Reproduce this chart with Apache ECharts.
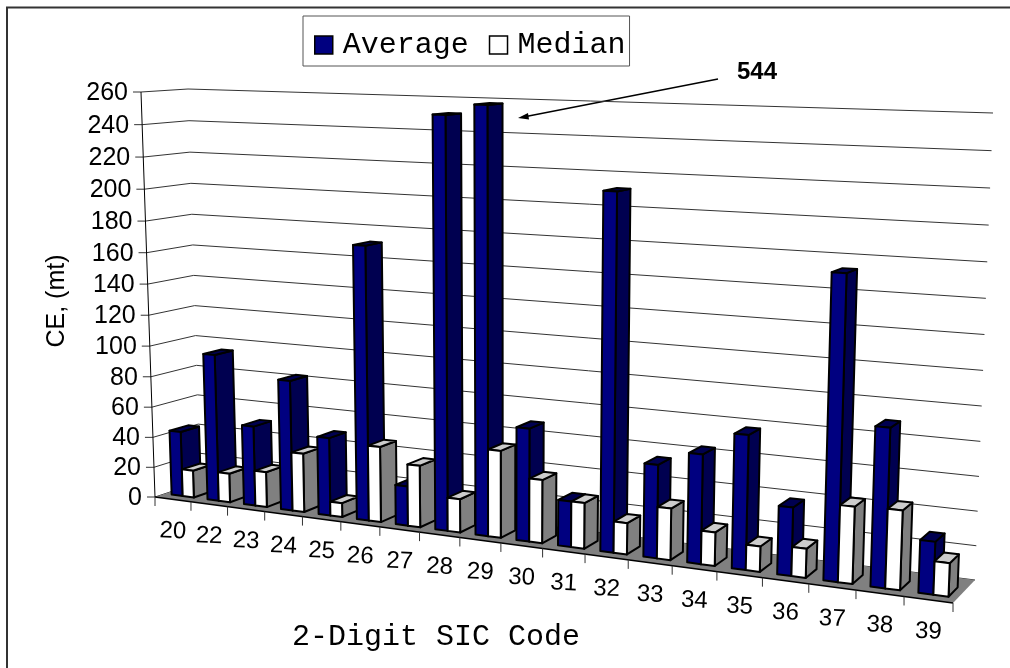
<!DOCTYPE html>
<html><head><meta charset="utf-8">
<style>html,body{margin:0;padding:0;background:#fff}#c{width:1010px;height:668px}</style>
<script src="https://cdn.jsdelivr.net/npm/echarts@6/dist/echarts.min.js"></script>
</head><body><div id="c"></div>
<script>
const categories = ['20','22','23','24','25','26','27','28','29','30','31','32','33','34','35','36','37','38','39'];
const average = [43,96,52,84,50,172,25,251.5,258,69.5,28,212,56,65,79,40,174,91,30];
const median  = [18,19,23,38,9,48,39,21,54,39,28,19,31,20,15,17,44.5,45.5,19];
const valueTicks = [0,20,40,60,80,100,120,140,160,180,200,220,240,260];

// Measured corners of the 3-D box: [u][h][d], with foreshortening along u and h.
const C = {
  c000:[155,497], c001:[200,482], c010:[141,92], c011:[188,89],
  c100:[953,603], c101:[975,580], c110:[971,117], c111:[993,113]
};
const warpU = 0.85, warpH = 0.95;
const BAR_D0 = 0.22, BAR_D1 = 0.63, BAR_W = 0.31;
const warp = (t, a) => a * t / (1 + (a - 1) * t);
function project(u, h, d) {
  const U = warp(u, warpU), H = warp(h, warpH);
  const out = [0, 0];
  for (let k = 0; k < 2; k++) {
    const lerp = (a, b, t) => a + (b - a) * t;
    const b0 = lerp(lerp(C.c000[k], C.c100[k], U), lerp(C.c010[k], C.c110[k], U), H);
    const b1 = lerp(lerp(C.c001[k], C.c101[k], U), lerp(C.c011[k], C.c111[k], U), H);
    out[k] = lerp(b0, b1, d);
  }
  return out;
}
function unit(params, p) {
  const r = params.coordSys;
  return [(p[0] - r.x) / r.width, (r.y + r.height - p[1]) / r.height];
}
const poly = (pts, fill, z2, stroke, lw) => ({
  type: 'polygon', z2, silent: true,
  shape: { points: pts },
  style: { fill, stroke: stroke || null, lineWidth: lw == null ? 0 : lw, lineJoin: 'round' }
});
const line = (pts, stroke, lw, z2) => ({
  type: 'polyline', z2, silent: true,
  shape: { points: pts }, style: { fill: null, stroke, lineWidth: lw }
});
const label = (text, x, y, z2, opts) => ({
  type: 'text', z2, silent: true, x, y, rotation: (opts && opts.rotation) || 0,
  style: Object.assign({ text, x: 0, y: 0, fill: '#000', font: '25px "Liberation Sans"', align: 'center', verticalAlign: 'middle' }, opts && opts.style)
});

function barItem(faces, side) {
  return function (params, api) {
    const i = api.value(0), v = api.value(1);
    const p = api.coord([i, v]);
    const [uc, h] = unit(params, p);
    const w = api.size([1, 0])[0] / params.coordSys.width;
    const u0 = side < 0 ? uc - BAR_W * w : uc;
    const u1 = side < 0 ? uc : uc + BAR_W * w;
    const z2 = 100 + i * 2 + (side < 0 ? 0 : 1);
    const P = (u, hh, d) => project(u, hh, d);
    const lw = 2;
    return { type: 'group', children: [
      poly([P(u1,0,BAR_D0),P(u1,0,BAR_D1),P(u1,h,BAR_D1),P(u1,h,BAR_D0)], faces.side, z2, '#000', lw),
      poly([P(u0,h,BAR_D0),P(u1,h,BAR_D0),P(u1,h,BAR_D1),P(u0,h,BAR_D1)], faces.top, z2, '#000', lw),
      poly([P(u0,0,BAR_D0),P(u1,0,BAR_D0),P(u1,h,BAR_D0),P(u0,h,BAR_D0)], faces.front, z2, '#000', lw)
    ]};
  };
}

const option = {
  animation: false,
  backgroundColor: '#fff',
  grid: { left: 155, right: 57, top: 92, bottom: 171, containLabel: false },
  xAxis: { type: 'category', data: categories, show: false, boundaryGap: true },
  yAxis: { type: 'value', min: 0, max: 260, interval: 20, show: false },
  legend: {
    left: 303, top: 16, width: 326, height: 54,
    orient: 'horizontal', padding: [14, 4, 6, 11], itemGap: 20, itemWidth: 18, itemHeight: 18,
    borderColor: '#555', borderWidth: 1, backgroundColor: '#fff',
    textStyle: { fontFamily: 'Liberation Mono', fontSize: 30, color: '#000', padding: [0, 0, 0, 5] },
    selectedMode: false,
    data: [
      { name: 'Average', icon: 'rect', itemStyle: { color: '#000080', borderColor: '#000', borderWidth: 1.5 } },
      { name: 'Median', icon: 'rect', itemStyle: { color: '#fff', borderColor: '#000', borderWidth: 1.5 } }
    ]
  },
  graphic: [
    { type: 'polyline', silent: true, shape: { points: [[1010,7.5],[7,7.5],[7,668]] }, style: { fill: null, stroke: '#333', lineWidth: 2 }, z: 20 },
    { type: 'text', silent: true, x: 57, y: 301, rotation: Math.PI / 2, style: { text: 'CE, (mt)', font: '25px "Liberation Sans"', fill: '#000', align: 'center', verticalAlign: 'middle' } },
    { type: 'text', silent: true, x: 436, y: 637, style: { text: '2-Digit SIC Code', font: '30px "Liberation Mono"', fill: '#000', align: 'center', verticalAlign: 'middle' } },
    { type: 'text', silent: true, x: 757, y: 72, style: { text: '544', font: 'bold 24px "Liberation Sans"', fill: '#000', align: 'center', verticalAlign: 'middle' } },
    { type: 'line', silent: true, shape: { x1: 718, y1: 79, x2: 526, y2: 116.5 }, style: { stroke: '#000', lineWidth: 1.5 } },
    { type: 'polygon', silent: true, shape: { points: [[518,118],[528,113],[529,119.5]] }, style: { fill: '#000' } }
  ],
  series: [
    { // walls: gridlines bent at the back-left corner, value ticks and labels
      type: 'custom', name: 'walls', coordinateSystem: 'cartesian2d', silent: true, clip: false,
      data: valueTicks.map(v => [0, v]),
      renderItem(params, api) {
        const v = api.value(1);
        const h = unit(params, api.coord([0, v]))[1];
        const a = project(0,h,0), b = project(0,h,1), c = project(1,h,1);
        return { type: 'group', children: [
          line([a,b,c], '#333', 1, 1),
          line([[a[0]-8,a[1]],a], '#333', 1, 1),
          label(String(v), a[0]-13, a[1]+1, 2, { style: { align: 'right' } })
        ]};
      }
    },
    { // floor, front edge, left axis
      type: 'custom', name: 'floor', coordinateSystem: 'cartesian2d', silent: true, clip: false,
      data: [[0, 0]],
      renderItem(params, api) {
        return { type: 'group', children: [
          poly([project(0,0,0),project(1,0,0),project(1,0,1),project(0,0,1)], '#808080', 3),
          line([project(0,0,0),project(1,0,0)], '#000', 1.5, 4),
          line([project(0,0,0),project(0,1,0)], '#000', 1, 4)
        ]};
      }
    },
    { // category ticks and labels
      type: 'custom', name: 'ticks', coordinateSystem: 'cartesian2d', silent: true, clip: false,
      data: categories.map((c, i) => [i, 0]),
      renderItem(params, api) {
        const i = api.value(0);
        const uc = unit(params, api.coord([i, 0]))[0];
        const w = api.size([1, 0])[0] / params.coordSys.width;
        const t = project(uc - w / 2, 0, 0);
        const children = [ line([t, [t[0], t[1]+9]], '#333', 1, 4),
          label(categories[i], project(uc,0,0)[0], project(uc,0,0)[1]+32, 4, { rotation: -0.05, style: { font: '24px "Liberation Sans"' } }) ];
        if (i === categories.length - 1) {
          const e = project(uc + w / 2, 0, 0);
          children.push(line([e, [e[0], e[1]+9]], '#333', 1, 4));
        }
        return { type: 'group', children };
      }
    },
    { type: 'custom', name: 'Average', coordinateSystem: 'cartesian2d', clip: false, silent: true,
      itemStyle: { color: '#000080' },
      data: average.map((v, i) => [i, v]),
      renderItem: barItem({ front: '#000080', side: '#000050', top: '#000050' }, -1) },
    { type: 'custom', name: 'Median', coordinateSystem: 'cartesian2d', clip: false, silent: true,
      itemStyle: { color: '#fff' },
      data: median.map((v, i) => [i, v]),
      renderItem: barItem({ front: '#ffffff', side: '#808080', top: '#cccccc' }, 1) }
  ]
};
const chart = echarts.init(document.getElementById('c'), null, { renderer: 'canvas' });
chart.setOption(option);
</script></body></html>
